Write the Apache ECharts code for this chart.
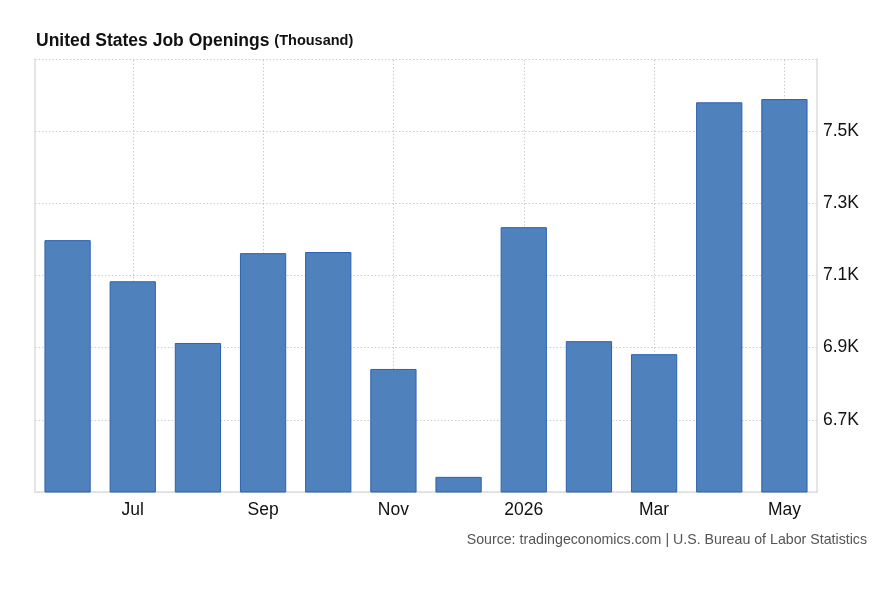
<!DOCTYPE html>
<html>
<head>
<meta charset="utf-8">
<script src="https://cdn.jsdelivr.net/npm/echarts@6/dist/echarts.min.js"></script>
<style>
html,body{margin:0;padding:0;background:#fff;}
#main{width:882px;height:603px;}
</style>
</head>
<body>
<div id="main"></div>
<script>
var categories = ['Jun','Jul','Aug','Sep','Oct','Nov','Dec','2026','Feb','Mar','Apr','May'];
var jobOpenings = [7.198, 7.084, 6.913, 7.162, 7.165, 6.841, 6.542, 7.234, 6.918, 6.882, 7.580, 7.589];
var gridCategories = ['Jul','Sep','Nov','2026','Mar','May'];
var yMin = 6.5, yMax = 7.7, yStep = 0.2;

var chart = echarts.init(document.getElementById('main'));
var font = '"Liberation Sans", Arial, Helvetica, sans-serif';
chart.setOption({
  animation: false,
  textStyle: {fontFamily: font},
  title: {
    text: '{a|United States Job Openings} {b|(Thousand)}',
    left: 31, top: 27,
    textStyle: {
      rich: {
        a: {fontSize: 17.5, fontWeight: 'bold', color: '#111', fontFamily: font},
        b: {fontSize: 14.5, fontWeight: 'bold', color: '#111', fontFamily: font}
      }
    }
  },
  graphic: [{
    type: 'text', right: 15, top: 533,
    style: {text: 'Source: tradingeconomics.com | U.S. Bureau of Labor Statistics', fill: '#555', fontSize: 14.2, fontFamily: font}
  }],
  grid: {left: 35, right: 65, top: 59, bottom: 111},
  xAxis: {
    type: 'category',
    data: categories,
    axisLine: {show: true, lineStyle: {color: '#ddd', width: 1.5}},
    axisTick: {show: false},
    splitLine: {show: false},
    axisLabel: {
      interval: function (i) { return i % 2 === 1; },
      color: '#111', fontSize: 17.5, margin: 9, fontFamily: font
    }
  },
  yAxis: [{
    type: 'value', position: 'right',
    min: yMin, max: yMax, interval: yStep,
    axisLine: {show: true, lineStyle: {color: '#ddd', width: 1.5}},
    axisTick: {show: false},
    splitLine: {show: true, lineStyle: {color: '#ccc', type: [1.5, 2], width: 1}},
    axisLabel: {
      showMinLabel: false, showMaxLabel: false,
      color: '#111', fontSize: 17.5, margin: 6, fontFamily: font,
      formatter: function (v) { return v.toFixed(1) + 'K'; }
    }
  }, {
    type: 'value', position: 'left',
    min: yMin, max: yMax, interval: yStep,
    axisLine: {show: true, lineStyle: {color: '#ddd', width: 1.5}},
    axisTick: {show: false}, axisLabel: {show: false}, splitLine: {show: false}
  }],
  series: [{
    type: 'bar',
    data: jobOpenings,
    barCategoryGap: '29%',
    itemStyle: {color: '#4f81bd', borderColor: '#2c62b0', borderWidth: 1},
    markLine: {
      silent: true, symbol: 'none', label: {show: false},
      lineStyle: {color: '#ccc', type: [1.5, 2], width: 1},
      data: gridCategories.map(function (c) { return {xAxis: c}; }),
      z: 0
    },
    z: 2
  }]
});
</script>
</body>
</html>
